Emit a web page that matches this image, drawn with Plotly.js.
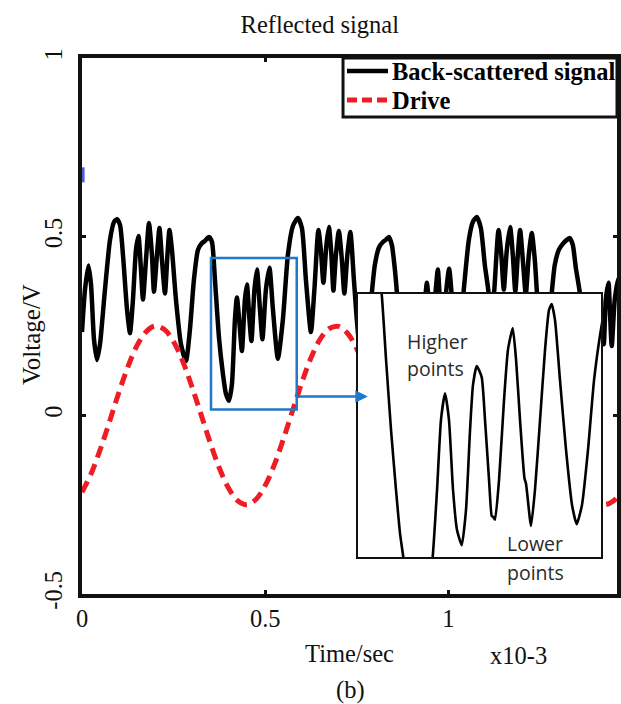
<!DOCTYPE html>
<html>
<head>
<meta charset="utf-8">
<script src="https://cdn.plot.ly/plotly-3.0.1.min.js"></script>
<style>html,body{margin:0;padding:0;background:#fff;}#chart{width:621px;height:704px;}</style>
</head>
<body>
<div id="chart"></div>
<script>
// Back-scattered signal (time in ms, voltage in V)
var signalTime = [
  0,0.0082,0.0177,0.0246,0.0327,0.0409,0.0491,0.0627,0.0764,0.0873,
  0.0955,0.1037,0.1118,0.1228,0.1309,0.1391,0.1473,0.1541,0.1609,0.1664,
  0.1746,0.1828,0.1909,0.1964,0.2046,0.2114,0.2182,0.2264,0.2332,0.2387,
  0.2455,0.2564,0.2701,0.2837,0.2946,0.3055,0.3164,0.3273,0.3355,0.3464,
  0.3546,0.3628,0.3737,0.3846,0.3928,0.4010,0.4092,0.4174,0.4228,0.4310,
  0.4364,0.4446,0.4501,0.4569,0.4624,0.4706,0.4774,0.4856,0.4924,0.5019,
  0.5115,0.5210,0.5346,0.5483,0.5619,0.5756,0.5892,0.6001,0.6110,0.6247,
  0.6342,0.6451,0.6519,0.6588,0.6670,0.6738,0.6806,0.6861,0.6929,0.7010,
  0.7092,0.7160,0.7242,0.7324,0.7420,0.7542,0.7638,0.7720,0.7815,0.7911,
  0.7992,0.8102,0.8211,0.8293,0.8374,0.8456,0.8538,0.8593,0.8674,0.8784,
  0.8893,0.9002,0.9084,0.9152,0.9220,0.9288,0.9356,0.9411,0.9493,0.9561,
  0.9643,0.9711,0.9779,0.9847,0.9943,1.0019,1.0120,1.0257,1.0412,1.0557,
  1.0666,1.0775,1.0884,1.0993,1.1094,1.1157,1.1252,1.1367,1.1443,1.1511,
  1.1593,1.1683,1.1757,1.1825,1.1893,1.1956,1.2030,1.2111,1.2193,1.2275,
  1.2357,1.2466,1.2630,1.2739,1.2821,1.2902,1.3012,1.3121,1.3230,1.3312,
  1.3394,1.3476,1.3584,1.3694,1.3803,1.3885,1.3966,1.4048,1.4103,1.4185,
  1.4239,1.4294,1.4367,1.4416,1.4457,1.4539,1.4640,1.4703
];
var signalVolt = [
  0.233,0.352,0.419,0.366,0.213,0.155,0.199,0.352,0.491,0.541,
  0.549,0.533,0.449,0.297,0.230,0.324,0.463,0.502,0.408,0.324,
  0.435,0.538,0.449,0.346,0.449,0.524,0.435,0.341,0.449,0.519,
  0.463,0.324,0.199,0.152,0.241,0.380,0.463,0.482,0.488,0.499,
  0.485,0.380,0.219,0.116,0.060,0.041,0.088,0.269,0.330,0.241,
  0.180,0.324,0.366,0.269,0.208,0.352,0.408,0.297,0.213,0.352,
  0.413,0.297,0.158,0.269,0.449,0.530,0.552,0.524,0.380,0.233,
  0.352,0.519,0.463,0.371,0.477,0.527,0.449,0.349,0.449,0.516,
  0.435,0.341,0.449,0.513,0.380,0.219,0.163,0.152,0.227,0.344,
  0.421,0.469,0.485,0.491,0.499,0.477,0.408,0.344,0.213,0.088,
  0.041,0.088,0.269,0.324,0.241,0.180,0.310,0.371,0.283,0.208,
  0.338,0.408,0.297,0.213,0.352,0.410,0.297,0.158,0.344,0.491,
  0.541,0.555,0.524,0.421,0.344,0.233,0.352,0.519,0.449,0.352,
  0.463,0.527,0.449,0.346,0.449,0.519,0.435,0.338,0.449,0.510,
  0.435,0.269,0.158,0.241,0.344,0.421,0.463,0.480,0.491,0.496,
  0.477,0.413,0.344,0.199,0.060,0.041,0.102,0.269,0.324,0.241,
  0.199,0.324,0.371,0.269,0.194,0.324,0.385,0.324
];

// Drive (time in ms, voltage in V)
var driveTime = [
  0,0.025,0.05,0.075,0.1,0.125,0.15,0.175,0.2,0.225,
  0.25,0.275,0.3,0.325,0.35,0.375,0.4,0.425,0.45,0.475,
  0.5,0.525,0.55,0.575,0.6,0.625,0.65,0.675,0.7,0.725,
  0.75,0.775,0.8,0.825,0.85,0.875,0.9,0.925,0.95,0.975,
  1.0,1.025,1.05,1.075,1.1,1.125,1.15,1.175,1.2,1.225,
  1.25,1.275,1.3,1.325,1.35,1.375,1.4,1.425,1.45,1.475,1.5
];
var driveVolt = [
  -0.215,-0.163,-0.095,-0.018,0.062,0.135,0.195,0.234,0.250,0.240,
  0.206,0.151,0.080,0.002,-0.077,-0.148,-0.204,-0.239,-0.250,-0.235,
  -0.196,-0.138,-0.065,0.014,0.092,0.161,0.213,0.243,0.249,0.229,
  0.186,0.124,0.049,-0.030,-0.107,-0.173,-0.221,-0.247,-0.247,-0.222,
  -0.175,-0.110,-0.034,0.046,0.121,0.184,0.228,0.249,0.244,0.215,
  0.163,0.095,0.018,-0.062,-0.135,-0.195,-0.234,-0.250,-0.240,-0.206,-0.151
];

// Zoomed inset of the blue-boxed region
var insetTime = [
  0.3693,0.3748,0.3790,0.3838,0.3886,0.3924,0.3956,0.4021,0.4098,0.4175,
  0.4239,0.4281,0.4319,0.4358,0.4396,0.4435,0.4473,0.4519,0.4560,0.4599,
  0.4627,0.4663,0.4711,0.4743,0.4782,0.4808,0.4820,0.4839,0.4878,0.4926,
  0.4964,0.5010,0.5042,0.5080,0.5123,0.5138,0.5186,0.5224,0.5273,0.5321,
  0.5359,0.5385,0.5417,0.5465,0.5523,0.5581,0.5626,0.5677,0.5735,0.5793,
  0.5851,0.5908
];
var insetVolt = [
  0.511,0.440,0.334,0.221,0.124,0.055,0.016,-0.069,-0.094,-0.069,
  0.016,0.124,0.237,0.280,0.237,0.124,0.060,0.035,0.092,0.221,
  0.293,0.324,0.306,0.237,0.140,0.082,0.081,0.076,0.140,0.269,
  0.350,0.385,0.334,0.237,0.143,0.134,0.066,0.124,0.237,0.350,
  0.414,0.424,0.398,0.301,0.189,0.100,0.069,0.100,0.189,0.301,
  0.374,0.430
];

// Blue zoom box (time range, voltage range) and arrow target
var zoomBoxTime = [0.352, 0.586];
var zoomBoxVolt = [0.016, 0.440];
var arrowTipTime = 0.780;
var arrowVolt = 0.053;

var seriesNames = ['Back-scattered signal', 'Drive'];
var xTickVals = [0, 0.5, 1];
var xTickText = ['0', '0.5', '1'];
var yTickVals = [-0.5, 0, 0.5, 1];
var yTickText = ['-0.5', '0', '0.5', '1'];

var serif = 'Liberation Serif, Times New Roman, serif';
var sans = 'Open Sans, sans-serif';
var ink = '#111111';
var blue = '#1f78c8';
var red = '#ee1c25';
var fs = 24.5;

var traces = [
  {x: signalTime, y: signalVolt, type: 'scatter', mode: 'lines', name: seriesNames[0], showlegend: false,
   line: {color: '#000000', width: 4.5, shape: 'spline', smoothing: 0.6}, xaxis: 'x', yaxis: 'y'},
  {x: driveTime, y: driveVolt, type: 'scatter', mode: 'lines', name: seriesNames[1], showlegend: false,
   line: {color: red, width: 5, dash: '12px,7px', shape: 'spline'}, xaxis: 'x', yaxis: 'y'},
  {x: insetTime, y: insetVolt, type: 'scatter', mode: 'lines', showlegend: false,
   line: {color: '#000000', width: 2.6, shape: 'spline', smoothing: 0.5}, xaxis: 'x2', yaxis: 'y2'}
];

var mainAxis = {
  showline: true, linecolor: ink, linewidth: 4, mirror: 'ticks',
  ticks: 'inside', ticklen: 4, tickwidth: 3, tickcolor: ink,
  showgrid: false, zeroline: false, tickmode: 'array',
  tickfont: {family: serif, size: fs, color: ink}
};
var insetAxis = {
  showline: true, mirror: true, linecolor: ink, linewidth: 2,
  showticklabels: false, ticks: '', showgrid: false, zeroline: false
};

var layout = {
  width: 621, height: 704,
  margin: {l: 82, r: 4, t: 58, b: 110},
  paper_bgcolor: '#ffffff', plot_bgcolor: '#ffffff',
  font: {family: serif, size: fs, color: ink},
  title: {text: 'Reflected signal', font: {family: serif, size: fs, color: ink},
          x: 0.515, xref: 'container', xanchor: 'center', y: 0.966, yref: 'container', yanchor: 'middle'},
  showlegend: false,
  xaxis: Object.assign({}, mainAxis, {range: [0, 1.46], tickvals: xTickVals, ticktext: xTickText,
           title: {text: 'Time/sec', standoff: 14, font: {family: serif, size: fs, color: ink}}}),
  yaxis: Object.assign({}, mainAxis, {range: [-0.5, 1.0], tickvals: yTickVals, ticktext: yTickText,
           tickangle: -90, ticklabelstandoff: 6}),
  xaxis2: Object.assign({}, insetAxis, {domain: [0.5159, 0.9701], anchor: 'y2', range: zoomBoxTime}),
  yaxis2: Object.assign({}, insetAxis, {domain: [0.069, 0.5597], anchor: 'x2', range: zoomBoxVolt}),
  shapes: [
    // zoom box on main axes
    {type: 'rect', xref: 'x', yref: 'y', x0: zoomBoxTime[0], x1: zoomBoxTime[1],
     y0: zoomBoxVolt[0], y1: zoomBoxVolt[1], line: {color: blue, width: 2.5}, fillcolor: 'rgba(0,0,0,0)'},
    // stray blue mark on the left axis
    {type: 'line', xref: 'x', yref: 'y', x0: 0.003, x1: 0.003, y0: 0.652, y1: 0.694,
     line: {color: '#4a5fd0', width: 3}},
    // legend box
    {type: 'rect', xref: 'paper', yref: 'paper', x0: 0.4879, x1: 1.0, y0: 0.8899, y1: 1.0,
     line: {color: ink, width: 3}, fillcolor: '#ffffff', layer: 'above'},
    // legend samples
    {type: 'line', xref: 'paper', yref: 'paper', x0: 0.4953, x1: 0.5720, y0: 0.9757, y1: 0.9757,
     line: {color: '#000000', width: 4.5}, layer: 'above'},
    {type: 'line', xref: 'paper', yref: 'paper', x0: 0.4953, x1: 0.5720, y0: 0.9216, y1: 0.9216,
     line: {color: red, width: 5, dash: '10px,5px'}, layer: 'above'}
  ],
  annotations: [
    {xref: 'x', yref: 'y', axref: 'x', ayref: 'y', x: arrowTipTime, y: arrowVolt,
     ax: zoomBoxTime[1], ay: arrowVolt, text: '', showarrow: true,
     arrowhead: 2, arrowsize: 1, arrowwidth: 2.5, arrowcolor: blue, standoff: 0, startstandoff: 0},
    {xref: 'paper', yref: 'paper', x: -0.0953, y: 0.4832, xanchor: 'center', yanchor: 'middle',
     text: 'Voltage/V', textangle: -90, showarrow: false, font: {family: serif, size: fs + 0.5, color: ink}},
    {xref: 'paper', yref: 'paper', x: 0.5757, y: 0.9757, xanchor: 'left', yanchor: 'middle',
     text: seriesNames[0], showarrow: false, font: {family: serif, size: fs, weight: 'bold', color: '#000'}},
    {xref: 'paper', yref: 'paper', x: 0.5757, y: 0.9216, xanchor: 'left', yanchor: 'middle',
     text: seriesNames[1], showarrow: false, font: {family: serif, size: fs, weight: 'bold', color: '#000'}},
    {xref: 'paper', yref: 'paper', x: 0.6037, y: 0.472, xanchor: 'left', yanchor: 'middle',
     text: 'Higher', showarrow: false, font: {family: sans, size: 19.5, color: '#2a2a2a'}},
    {xref: 'paper', yref: 'paper', x: 0.6037, y: 0.420, xanchor: 'left', yanchor: 'middle',
     text: 'points', showarrow: false, font: {family: sans, size: 19.5, color: '#2a2a2a'}},
    {xref: 'paper', yref: 'paper', x: 0.7907, y: 0.0933, xanchor: 'left', yanchor: 'middle',
     text: 'Lower', showarrow: false, font: {family: sans, size: 19.5, color: '#2a2a2a'}},
    {xref: 'paper', yref: 'paper', x: 0.7907, y: 0.0392, xanchor: 'left', yanchor: 'middle',
     text: 'points', showarrow: false, font: {family: sans, size: 19.5, color: '#2a2a2a'}},
    {xref: 'paper', yref: 'paper', x: 0.815, y: -0.114, xanchor: 'center', yanchor: 'middle',
     text: 'x10-3', showarrow: false, font: {family: serif, size: fs, color: ink}},
    {xref: 'paper', yref: 'paper', x: 0.501, y: -0.179, xanchor: 'center', yanchor: 'middle',
     text: '(b)', showarrow: false, font: {family: serif, size: fs, color: ink}}
  ]
};

Plotly.newPlot('chart', traces, layout, {displayModeBar: false, staticPlot: true});
</script>
</body>
</html>
